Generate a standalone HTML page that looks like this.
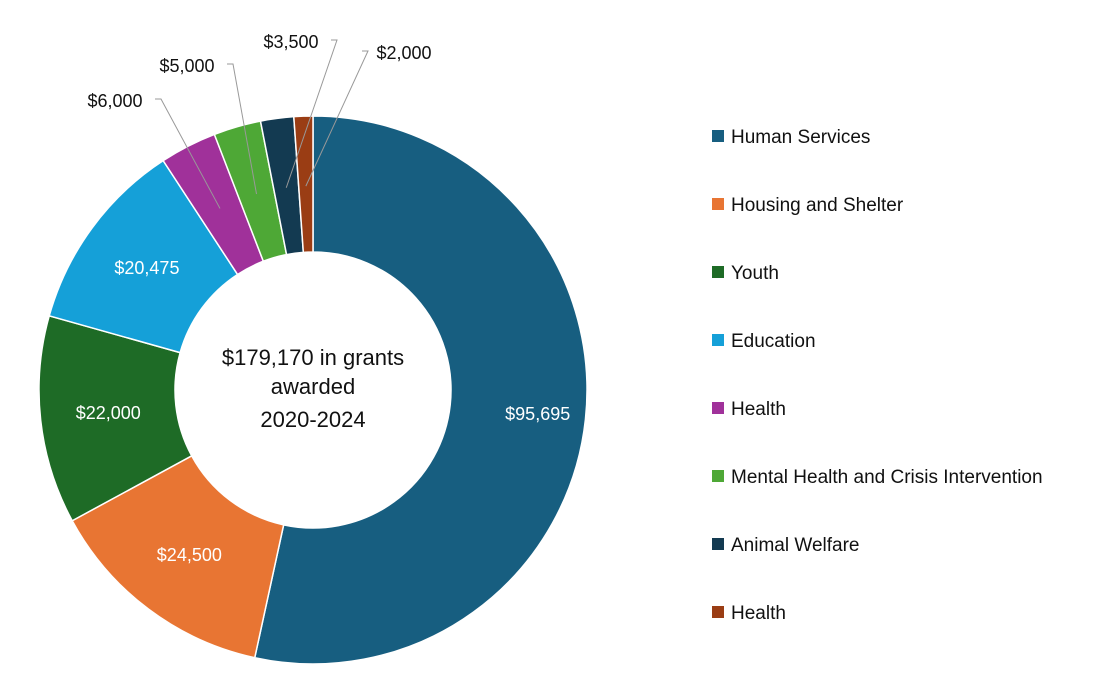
<!DOCTYPE html>
<html><head><meta charset="utf-8">
<style>
body{margin:0;background:#fff;width:1119px;height:678px;overflow:hidden;font-family:"Liberation Sans",sans-serif;}
</style></head>
<body>
<svg id="chart" width="1119" height="678" viewBox="0 0 1119 678" xmlns="http://www.w3.org/2000/svg">
<g id="slices"></g>
<g id="labels"></g>
<g id="legend"></g>
<g font-size="22" fill="#111" text-anchor="middle">
<text x="313" y="365">$179,170 in grants</text>
<text x="313" y="394">awarded</text>
<text x="313" y="427">2020-2024</text>
</g>
</svg>
<script>
const categories=["Human Services","Housing and Shelter","Youth","Education","Health","Mental Health and Crisis Intervention","Animal Welfare","Health"];
const values=[95695,24500,22000,20475,6000,5000,3500,2000];
const valueLabels=["$95,695","$24,500","$22,000","$20,475","$6,000","$5,000","$3,500","$2,000"];
const colors=["#175e80","#e87533","#1e6b26","#15a0d8","#a0319a","#4ea836","#133a51","#9a3d14"];
const cx=313,cy=390,R=274,r=138,NS="http://www.w3.org/2000/svg";
const outsideLabelPos=[null,null,null,null,[115,107],[187,72],[291,48],[404,59]];
const total=values.reduce((a,b)=>a+b,0);
function pt(a,rad){return [cx+rad*Math.sin(a),cy-rad*Math.cos(a)];}
let acc=0;
const gS=document.getElementById('slices'),gL=document.getElementById('labels'),gG=document.getElementById('legend');
values.forEach((v,i)=>{
  const a0=acc/total*2*Math.PI; acc+=v; const a1=acc/total*2*Math.PI;
  const large=(a1-a0)>Math.PI?1:0;
  const p0=pt(a0,R),p1=pt(a1,R),q1=pt(a1,r),q0=pt(a0,r);
  const p=document.createElementNS(NS,'path');
  p.setAttribute('d',`M${p0[0]},${p0[1]}A${R},${R} 0 ${large} 1 ${p1[0]},${p1[1]}L${q1[0]},${q1[1]}A${r},${r} 0 ${large} 0 ${q0[0]},${q0[1]}Z`);
  p.setAttribute('fill',colors[i]);p.setAttribute('stroke','#fff');p.setAttribute('stroke-width','1.5');
  
  
  gS.appendChild(p);
  const am=(a0+a1)/2;
  const t=document.createElementNS(NS,'text');
  t.setAttribute('font-size','18');t.setAttribute('text-anchor','middle');
  
  
  t.textContent=valueLabels[i];
  if(outsideLabelPos[i]){
    const lp=outsideLabelPos[i];
    t.setAttribute('x',lp[0]);t.setAttribute('y',lp[1]);t.setAttribute('fill','#111');
    const e=pt(am,R-70);
    const ln=document.createElementNS(NS,'polyline');
    const sx=lp[0]+(i===7?-42:40);
    ln.setAttribute('points',`${sx},${lp[1]-8} ${sx+6},${lp[1]-8} ${e[0]},${e[1]}`);
    ln.setAttribute('fill','none');ln.setAttribute('stroke','#999');ln.setAttribute('stroke-width','1');
    
    
    gL.appendChild(ln);
  } else {
    const m=pt(am,(R+r)/2+(i===0?20:0));
    t.setAttribute('x',m[0]);t.setAttribute('y',m[1]+6);t.setAttribute('fill','#fff');
  }
  gL.appendChild(t);
  const y=136+i*68;
  const sq=document.createElementNS(NS,'rect');
  sq.setAttribute('x',712);sq.setAttribute('y',y-6);sq.setAttribute('width',12);sq.setAttribute('height',12);sq.setAttribute('fill',colors[i]);
  
  
  gG.appendChild(sq);
  const lt=document.createElementNS(NS,'text');
  lt.setAttribute('x',731);lt.setAttribute('y',y+7);lt.setAttribute('font-size','19');lt.setAttribute('fill','#111');
  lt.textContent=categories[i];
  
  
  gG.appendChild(lt);
});
</script>
</body></html>
